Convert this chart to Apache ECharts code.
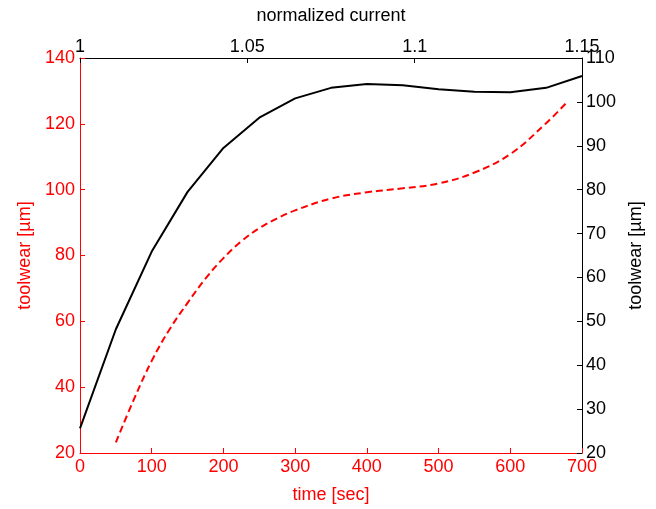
<!DOCTYPE html>
<html>
<head>
<meta charset="utf-8">
<script src="https://cdn.jsdelivr.net/npm/echarts@6/dist/echarts.min.js"></script>
<style>
html,body{margin:0;padding:0;background:#fff;}
#c{width:656px;height:509px;}
</style>
</head>
<body>
<div id="c"></div>
<script>
// Red dashed series: time [sec] vs toolwear [µm] (left axis)
var redTime = [50, 75, 100, 125, 150, 175, 200, 225, 250, 275, 300, 350, 400, 450, 500, 550, 600, 650, 680];
var redWear = [23.2, 36.2, 48.0, 57.6, 65.6, 73.0, 79.2, 84.3, 88.3, 91.3, 93.7, 97.3, 99.2, 100.4, 101.9, 105.2, 110.8, 120.2, 126.8];
// Black solid series: toolwear [µm] (right axis), sampled every 50 sec along the shared x range
var blackTime = [0, 50, 100, 150, 200, 250, 300, 350, 400, 450, 500, 550, 600, 650, 700];
var blackWear = [25.6, 48.2, 65.9, 79.5, 89.5, 96.4, 100.8, 103.2, 104.1, 103.8, 102.9, 102.3, 102.2, 103.2, 105.9];
// Axis ranges
var timeRange = [0, 700, 100];
var currentRange = [1, 1.15, 0.05];
var leftWearRange = [20, 140, 20];
var rightWearRange = [20, 110, 10];

var FONT = '"Liberation Sans", Arial, Helvetica, sans-serif';
var RED = '#ff0000';
var BLACK = '#000000';

function pairs(xs, ys) { return xs.map(function (x, i) { return [x, ys[i]]; }); }

var chart = echarts.init(document.getElementById('c'), null, {renderer: 'canvas'});
chart.setOption({
  animation: false,
  backgroundColor: '#ffffff',
  grid: {left: 80, right: 74, top: 58, bottom: 56, containLabel: false},
  xAxis: [
    {
      type: 'value', position: 'bottom',
      min: timeRange[0], max: timeRange[1], interval: timeRange[2],
      name: 'time [sec]', nameLocation: 'middle', nameGap: 33,
      nameTextStyle: {color: RED, fontSize: 18, fontFamily: FONT},
      axisLine: {show: true, onZero: false, lineStyle: {color: RED, width: 1}},
      axisTick: {show: true, inside: true, length: 5, lineStyle: {color: RED}},
      axisLabel: {color: RED, fontSize: 18, fontFamily: FONT, margin: 5},
      splitLine: {show: false}
    },
    {
      type: 'value', position: 'top',
      min: currentRange[0], max: currentRange[1], interval: currentRange[2],
      name: 'normalized current', nameLocation: 'middle', nameGap: 33,
      nameTextStyle: {color: BLACK, fontSize: 18, fontFamily: FONT},
      axisLine: {show: true, onZero: false, lineStyle: {color: BLACK, width: 1}},
      axisTick: {show: true, inside: true, length: 5, lineStyle: {color: BLACK}},
      axisLabel: {color: BLACK, fontSize: 18, fontFamily: FONT, margin: 2,
        formatter: function (v) { return String(+v.toFixed(2)); }},
      splitLine: {show: false}
    }
  ],
  yAxis: [
    {
      type: 'value', position: 'left',
      min: leftWearRange[0], max: leftWearRange[1], interval: leftWearRange[2],
      name: 'toolwear [µm]', nameLocation: 'middle', nameGap: 46, nameRotate: 90,
      nameTextStyle: {color: RED, fontSize: 18, fontFamily: FONT},
      axisLine: {show: true, onZero: false, lineStyle: {color: RED, width: 1}},
      axisTick: {show: true, inside: true, length: 5, lineStyle: {color: RED}},
      axisLabel: {color: RED, fontSize: 18, fontFamily: FONT, margin: 5},
      splitLine: {show: false}
    },
    {
      type: 'value', position: 'right',
      min: rightWearRange[0], max: rightWearRange[1], interval: rightWearRange[2],
      name: 'toolwear [µm]', nameLocation: 'middle', nameGap: 43, nameRotate: 90,
      nameTextStyle: {color: BLACK, fontSize: 18, fontFamily: FONT},
      axisLine: {show: true, onZero: false, lineStyle: {color: BLACK, width: 1}},
      axisTick: {show: true, inside: true, length: 5, lineStyle: {color: BLACK}},
      axisLabel: {color: BLACK, fontSize: 18, fontFamily: FONT, margin: 4},
      splitLine: {show: false}
    }
  ],
  series: [
    {
      type: 'line', xAxisIndex: 0, yAxisIndex: 0,
      data: pairs(redTime, redWear),
      showSymbol: false, smooth: 0.4,
      lineStyle: {color: RED, width: 2, type: [7, 4]}
    },
    {
      type: 'line', xAxisIndex: 0, yAxisIndex: 1,
      data: pairs(blackTime, blackWear),
      showSymbol: false, smooth: false,
      lineStyle: {color: BLACK, width: 2}
    }
  ]
});
</script>
</body>
</html>
